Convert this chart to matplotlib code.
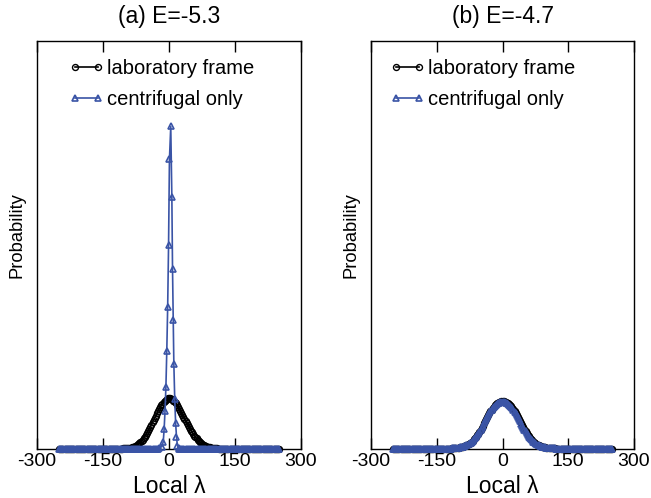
import numpy as np
import matplotlib
matplotlib.use("Agg")
import matplotlib.pyplot as plt

plt.rcParams['font.family'] = ['Liberation Sans', 'DejaVu Sans']

# ---------------------------------------------------------------
# data (probability in units of 1e-4)
# ---------------------------------------------------------------
grid = np.arange(-250, 252.5, 2.5)   # histogram bin centres

# (a) laboratory frame, bins -105..110
lab_a_core_x = np.arange(-105, 112.5, 2.5)
lab_a_core_y = [0.2, 0.25, 0.3, 0.4, 0.5, 0.65, 0.8, 1.0, 1.3, 1.6,
                2.0, 2.5, 3.0, 3.7, 4.5, 5.4, 6.5, 7.7, 9.0, 10.4,
                12.0, 13.7, 15.5, 17.5, 19.5, 21.7, 24.0, 26.2, 28.5, 30.8,
                33.0, 35.3, 37.5, 39.6, 41.5, 43.3, 45.0, 46.3, 47.5, 48.6,
                49.5, 50.1, 50.5, 50.4, 50.0, 49.1, 48.0, 46.8, 45.5, 43.8,
                42.0, 40.0, 38.0, 36.0, 34.0, 32.0, 30.0, 28.0, 26.0, 24.0,
                22.0, 20.0, 18.0, 16.2, 14.5, 13.0, 11.5, 10.1, 8.8, 7.6,
                6.5, 5.5, 4.7, 4.0, 3.3, 2.7, 2.2, 1.8, 1.4, 1.1,
                0.8, 0.65, 0.5, 0.4, 0.3, 0.2, 0.1]

# (a) centrifugal only: very narrow spike near zero
cen_a_core_x = [-23, -16, -13, -11, -9, -7, -5, -3, -1, 1, 4,
                6.5, 8, 9.5, 11, 13, 15, 17, 19, 22]
cen_a_core_y = [0.5, 2.0, 7.0, 20.0, 38.0, 62.0, 98.0, 142.0, 203.0, 289.0, 322.0,
                251.0, 180.0, 129.0, 85.0, 50.0, 26.0, 12.0, 3.0, 1.0]

# (b) both curves almost coincide, bins -115..120
b_core_x = np.arange(-115, 122.5, 2.5)
cen_b_core_y = [0.2, 0.3, 0.4, 0.5, 0.6, 0.75, 0.9, 1.1, 1.3, 1.6,
                1.9, 2.3, 2.7, 3.2, 3.7, 4.4, 5.1, 6.0, 6.9, 8.0,
                9.1, 10.4, 11.8, 13.4, 15.0, 16.9, 18.8, 20.9, 23.0, 25.2,
                27.3, 29.4, 31.5, 33.5, 35.4, 37.2, 38.8, 40.3, 41.6, 42.8,
                43.8, 44.7, 45.4, 45.9, 46.3, 46.5,
                46.6, 46.5, 46.2, 45.8, 45.3, 44.6, 43.8, 42.7, 41.5, 40.1,
                38.6, 36.9, 35.1, 33.2, 31.2, 29.2, 27.1, 25.0, 23.0, 21.0,
                19.0, 17.1, 15.3, 13.6, 12.0, 10.6, 9.3, 8.1, 7.0, 6.1,
                5.2, 4.5, 3.8, 3.2, 2.7, 2.3, 1.9, 1.6, 1.3, 1.1,
                0.9, 0.75, 0.6, 0.5, 0.4, 0.3, 0.2, 0.15, 0.1]
lab_b_core_y = [0.2, 0.3, 0.4, 0.5, 0.6, 0.75, 0.9, 1.1, 1.3, 1.6,
                1.9, 2.3, 2.7, 3.2, 3.7, 4.4, 5.1, 6.0, 6.9, 8.0,
                9.1, 10.4, 11.8, 13.4, 15.0, 16.9, 18.8, 20.9, 23.0, 25.2,
                27.3, 29.4, 31.5, 33.5, 35.4, 37.2, 38.8, 40.4, 41.8, 43.1,
                44.2, 45.2, 45.9, 46.5, 46.9, 47.1,
                47.2, 47.1, 46.9, 46.5, 46.0, 45.3, 44.5, 43.4, 42.2, 40.8,
                39.3, 37.6, 35.8, 33.8, 31.8, 29.7, 27.5, 25.4, 23.3, 21.3,
                19.2, 17.3, 15.5, 13.7, 12.1, 10.7, 9.3, 8.1, 7.0, 6.1,
                5.2, 4.5, 3.8, 3.2, 2.7, 2.3, 1.9, 1.6, 1.3, 1.1,
                0.9, 0.75, 0.6, 0.5, 0.4, 0.3, 0.2, 0.15, 0.1]

titles = ["(a) E=-5.3", "(b) E=-4.7"]
labels = ["laboratory frame", "centrifugal only"]
xticks = [-300, -150, 0, 150, 300]


def with_tails(core_x, core_y):
    """Put the read core of a curve on the zero baseline of the full bin range."""
    left = [g for g in grid if g < min(core_x)]
    right = [g for g in grid if g > max(core_x)]
    x = list(left) + list(core_x) + list(right)
    y = [0.0] * len(left) + list(core_y) + [0.0] * len(right)
    return x, y


curves = [
    (with_tails(lab_a_core_x, lab_a_core_y), with_tails(cen_a_core_x, cen_a_core_y)),
    (with_tails(b_core_x, lab_b_core_y), with_tails(b_core_x, cen_b_core_y)),
]

BLUE = '#3a54a6'

fig = plt.figure(figsize=(6.51, 4.98), dpi=100)
ax_a = fig.add_axes([37 / 651, 49.5 / 498, 264 / 651, 407 / 498])
ax_b = fig.add_axes([371 / 651, 49.5 / 498, 263 / 651, 407 / 498])

legend_x = [0.121, 0.072]

for i, ax in enumerate([ax_a, ax_b]):
    (lx, ly), (cx, cy) = curves[i]
    ax.plot(lx, ly, color='black', lw=1.2, marker='o', ms=4.3, mfc='none',
            mec='black', mew=1.0, clip_on=False, label=labels[0], zorder=3)
    ax.plot(cx, cy, color=BLUE, lw=1.2, marker='^', ms=4.8, mfc='none',
            mec=BLUE, mew=1.2, clip_on=False, label=labels[1], zorder=4)

    ax.set_xlim(-300, 300)
    ax.set_ylim(0, 407)
    ax.set_xticks(xticks)
    ax.set_xticklabels([str(t) for t in xticks], fontsize=14)
    ax.set_yticks([])
    ax.tick_params(axis='x', direction='in', length=8, width=1, top=True, pad=3)
    for s in ax.spines.values():
        s.set_linewidth(1.0)
    ax.set_xlabel('Local λ', fontsize=16.5, labelpad=4)
    ax.set_ylabel('Probability', fontsize=13.2)
    ax.yaxis.set_label_coords(-0.045, 0.525)
    ax.set_title(titles[i], fontsize=16.5, pad=13)

    ax.legend(loc='upper left', bbox_to_anchor=(legend_x[i], 0.958), frameon=False,
              fontsize=14.5, numpoints=2, handlelength=1.75, handletextpad=0.12,
              borderaxespad=0, borderpad=0, labelspacing=0.6)

fig.savefig('out.png', dpi=100)
